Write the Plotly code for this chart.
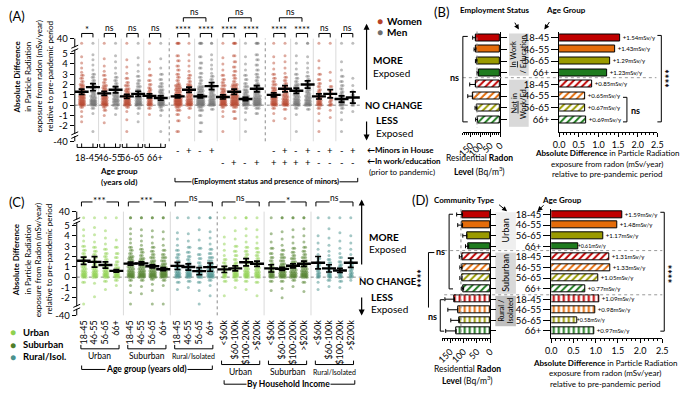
import plotly.graph_objects as go

W, H = 685, 398
FONT = "Lato"

# ================= DATA =================
# ---- Panel A : sex x age / employment / minors ----
A_age_groups = ["18-45", "46-55", "56-65", "66+"]
A_sex = ["W", "M", "W", "M", "W", "M", "W", "M",
         "W", "W", "M", "M", "W", "W", "M", "M",
         "W", "W", "M", "M", "W", "W", "M", "M"]
A_minors = [""] * 8 + ["-", "+", "-", "+", "", "", "", ""] + ["-", "+"] * 4
A_work = [""] * 8 + ["", "", "", "", "-", "+", "-", "+"] + ["+"] * 4 + ["-"] * 4
A_means = [1.3, 1.75, 1.15, 1.5, 0.85, 1.1, 0.9, 0.7,
           0.85, 1.5, 0.85, 1.85, 0.8, 1.3, 0.6, 1.6,
           1.0, 1.6, 1.4, 2.0, 0.85, 1.1, 0.6, 0.75]
A_err = [0.25, 0.35, 0.2, 0.3, 0.2, 0.25, 0.2, 0.2,
         0.15, 0.25, 0.15, 0.35, 0.2, 0.25, 0.15, 0.3,
         0.2, 0.3, 0.25, 0.35, 0.25, 0.4, 0.3, 0.55]
A_sig = ["*", "ns", "ns", "ns", "****", "****", "****", "****", "****", "****", "ns", "ns"]
A_dots = [
    [40, 4.7, 4.1, 3.6, 3.2, 2.9, 2.6, 2.3, 2.0, 1.8, 1.6, 1.4, 1.2, 1.0, 0.85, 0.7, 0.55, 0.4, 0.3, 0.2, 0.1, 0, -0.2, -0.6, -1.1, -1.6],
    [40, 4.9, 4.4, 3.9, 3.4, 3.0, 2.7, 2.4, 2.1, 1.9, 1.7, 1.5, 1.3, 1.1, 0.9, 0.7, 0.5, 0.4, 0.3, 0.2, 0.1, 0, -0.3, -0.8, -40],
    [40, 4.5, 3.8, 3.3, 2.9, 2.5, 2.2, 1.9, 1.7, 1.5, 1.3, 1.1, 0.9, 0.75, 0.6, 0.45, 0.3, 0.2, 0.1, 0, -0.2, -0.5, -1.0, -1.7],
    [40, 4.8, 4.2, 3.6, 3.1, 2.7, 2.4, 2.1, 1.8, 1.6, 1.4, 1.2, 1.0, 0.8, 0.6, 0.45, 0.3, 0.15, 0, -0.3, -0.9],
    [40, 4.4, 3.7, 3.1, 2.6, 2.2, 1.9, 1.6, 1.4, 1.2, 1.0, 0.85, 0.7, 0.55, 0.4, 0.3, 0.2, 0.1, 0, -0.2, -0.6, -1.4, -40],
    [40, 4.6, 3.9, 3.3, 2.8, 2.4, 2.1, 1.8, 1.5, 1.3, 1.1, 0.9, 0.75, 0.6, 0.45, 0.3, 0.2, 0.1, 0, -0.3, -0.8, -1.6],
    [40, 4.2, 3.5, 2.9, 2.4, 2.0, 1.7, 1.5, 1.3, 1.1, 0.9, 0.75, 0.6, 0.45, 0.3, 0.2, 0.1, 0, -0.3, -0.9],
    [40, 4.5, 3.6, 3.0, 2.5, 2.1, 1.8, 1.5, 1.3, 1.1, 0.9, 0.7, 0.55, 0.4, 0.3, 0.2, 0.1, 0, -0.2, -0.5, -1.0, -40],
    [40, 40, 4.8, 4.3, 3.8, 3.4, 3.0, 2.7, 2.4, 2.1, 1.9, 1.7, 1.5, 1.3, 1.1, 0.95, 0.8, 0.65, 0.5, 0.4, 0.3, 0.2, 0.1, 0, -0.2, -0.5, -0.9, -1.5, -40],
    [40, 4.9, 4.3, 3.8, 3.3, 2.9, 2.6, 2.3, 2.0, 1.8, 1.6, 1.4, 1.2, 1.0, 0.8, 0.6, 0.45, 0.3, 0.2, 0.1, 0, -0.3, -1.2],
    [40, 40, 4.7, 4.1, 3.6, 3.1, 2.7, 2.4, 2.1, 1.8, 1.6, 1.4, 1.2, 1.0, 0.85, 0.7, 0.55, 0.4, 0.3, 0.2, 0.1, 0, -0.2, -0.5, -1.0, -1.7, -40],
    [40, 40, 4.9, 4.4, 3.9, 3.5, 3.1, 2.8, 2.5, 2.2, 2.0, 1.8, 1.6, 1.4, 1.2, 1.0, 0.8, 0.6, 0.45, 0.3, 0.2, 0.1, 0, -0.4],
    [40, 4.6, 4.0, 3.4, 2.9, 2.5, 2.2, 1.9, 1.6, 1.4, 1.2, 1.0, 0.85, 0.7, 0.55, 0.4, 0.3, 0.2, 0.1, 0, -0.2, -0.6, -1.1, -40],
    [40, 40, 4.8, 4.2, 3.7, 3.3, 2.9, 2.6, 2.3, 2.0, 1.8, 1.6, 1.4, 1.2, 1.0, 0.85, 0.7, 0.55, 0.4, 0.3, 0.2, 0.1, 0, -0.2, -0.6, -1.3],
    [40, 4.7, 4.0, 3.4, 2.9, 2.5, 2.1, 1.8, 1.5, 1.3, 1.1, 0.9, 0.75, 0.6, 0.45, 0.3, 0.2, 0.1, 0, -0.3, -0.7, -1.4, -40],
    [40, 40, 4.9, 4.4, 3.9, 3.4, 3.0, 2.7, 2.4, 2.1, 1.9, 1.7, 1.5, 1.3, 1.1, 0.9, 0.7, 0.55, 0.4, 0.3, 0.2, 0.1, 0, -0.3, -0.8],
    [40, 4.7, 4.1, 3.5, 3.0, 2.6, 2.3, 2.0, 1.7, 1.5, 1.3, 1.1, 0.9, 0.75, 0.6, 0.45, 0.3, 0.2, 0.1, 0, -0.3, -0.8, -1.5],
    [40, 4.8, 4.2, 3.6, 3.1, 2.7, 2.4, 2.1, 1.8, 1.6, 1.4, 1.2, 1.0, 0.8, 0.6, 0.45, 0.3, 0.2, 0.1, 0, -0.4, -1.3],
    [40, 4.8, 4.1, 3.5, 3.0, 2.6, 2.3, 2.0, 1.8, 1.6, 1.4, 1.2, 1.0, 0.8, 0.6, 0.45, 0.3, 0.2, 0.1, 0, -0.3, -0.9, -40],
    [40, 40, 4.7, 4.1, 3.6, 3.2, 2.8, 2.5, 2.2, 1.9, 1.7, 1.5, 1.3, 1.1, 0.9, 0.7, 0.5, 0.35, 0.2, 0.1, 0, -0.4],
    [40, 4.3, 3.6, 3.0, 2.5, 2.1, 1.8, 1.5, 1.3, 1.1, 0.9, 0.75, 0.6, 0.45, 0.3, 0.2, 0.1, 0, -0.3, -0.8, -1.5, -40],
    [40, 3.2, 2.4, 1.8, 1.4, 1.1, 0.8, 0.5, 0.3, 0.1, 0, -0.5, -1.2],
    [40, 4.2, 3.4, 2.8, 2.3, 1.9, 1.6, 1.3, 1.1, 0.9, 0.7, 0.55, 0.4, 0.3, 0.2, 0.1, 0, -0.3, -0.7, -1.4, -40],
    [40, 2.6, 1.9, 1.4, 1.0, 0.7, 0.4, 0.2, 0, -0.6],
]

# ---- Panel C : community type x age / income ----
C_age_ticks = ["18-45", "46-55", "56-65", "66+"]
C_income_ticks = ["&lt;$60k", "$60-100k", "$100-200k", "&gt;$200k"]
C_groups = ["Urban", "Suburban", "Rural/Isolated"]
C_means = [1.59, 1.48, 1.17, 0.61, 1.31, 1.33, 1.05, 0.77, 1.09, 0.98, 0.58, 0.97,
           0.75, 0.85, 1.45, 1.3, 0.85, 0.8, 1.1, 1.3, 1.4, 0.85, 0.65, 1.4]
C_err = [0.35, 0.5, 0.3, 0.12, 0.15, 0.15, 0.15, 0.15, 0.35, 0.3, 0.35, 0.4,
         0.3, 0.25, 0.35, 0.25, 0.35, 0.15, 0.2, 0.25, 0.6, 0.35, 0.2, 0.45]
C_sig = ["***", "***", "ns", "ns", "*", "ns"]
C_dots = [
    [40, 4.6, 4.0, 3.5, 3.0, 2.6, 2.3, 2.0, 1.8, 1.6, 1.4, 1.2, 1.0, 0.8, 0.6, 0.45, 0.3, 0.2, 0.1, 0, -0.5, -40],
    [40, 4.8, 4.1, 3.4, 2.9, 2.5, 2.2, 1.9, 1.6, 1.4, 1.2, 1.0, 0.8, 0.6, 0.45, 0.3, 0.2, 0.1, 0, -0.6, -1.9],
    [40, 4.5, 3.8, 3.2, 2.7, 2.3, 2.0, 1.7, 1.4, 1.2, 1.0, 0.8, 0.6, 0.45, 0.3, 0.2, 0.1, 0, -0.4, -1.2],
    [40, 3.6, 2.9, 2.3, 1.9, 1.5, 1.2, 0.9, 0.7, 0.5, 0.35, 0.2, 0.1, 0, -0.3, -0.8],
    [40, 40, 4.7, 4.2, 3.7, 3.3, 2.9, 2.6, 2.3, 2.0, 1.8, 1.6, 1.4, 1.2, 1.0, 0.8, 0.6, 0.45, 0.3, 0.2, 0.1, 0, -0.3, -0.8, -1.5, -40],
    [40, 40, 4.6, 4.0, 3.5, 3.1, 2.7, 2.4, 2.1, 1.8, 1.6, 1.4, 1.2, 1.0, 0.8, 0.6, 0.45, 0.3, 0.2, 0.1, 0, -0.3, -0.9, -1.6],
    [40, 40, 4.5, 3.9, 3.3, 2.9, 2.5, 2.2, 1.9, 1.6, 1.4, 1.2, 1.0, 0.8, 0.6, 0.45, 0.3, 0.2, 0.1, 0, -0.2, -0.7, -1.3, -40],
    [40, 40, 4.4, 3.7, 3.1, 2.6, 2.2, 1.9, 1.6, 1.3, 1.1, 0.9, 0.7, 0.55, 0.4, 0.3, 0.2, 0.1, 0, -0.3, -0.8, -40],
    [40, 4.3, 3.7, 3.1, 2.6, 2.2, 1.9, 1.6, 1.3, 1.1, 0.9, 0.7, 0.5, 0.35, 0.2, 0.1, 0, -0.5, -1.2],
    [40, 4.2, 3.5, 2.9, 2.4, 2.0, 1.7, 1.4, 1.2, 1.0, 0.8, 0.6, 0.45, 0.3, 0.2, 0.1, 0, -0.4, -1.0],
    [40, 4.6, 3.6, 2.8, 2.2, 1.8, 1.4, 1.1, 0.8, 0.6, 0.4, 0.25, 0.1, 0, -0.5, -1.3, -40],
    [40, 40, 4.4, 3.8, 3.2, 2.7, 2.3, 1.9, 1.6, 1.3, 1.1, 0.9, 0.7, 0.5, 0.35, 0.2, 0.1, 0, -0.3, -0.8, -1.8],
    [40, 3.9, 3.2, 2.6, 2.1, 1.7, 1.4, 1.1, 0.9, 0.7, 0.5, 0.35, 0.2, 0.1, 0, -0.4, -1.8],
    [40, 4.5, 3.7, 3.0, 2.5, 2.1, 1.7, 1.4, 1.2, 1.0, 0.8, 0.6, 0.45, 0.3, 0.2, 0.1, 0, -0.3, -1.0],
    [40, 40, 4.7, 4.0, 3.4, 2.9, 2.5, 2.2, 1.9, 1.6, 1.4, 1.2, 1.0, 0.8, 0.6, 0.45, 0.3, 0.2, 0.1, 0, -0.4, -1.2],
    [40, 4.6, 3.9, 3.3, 2.8, 2.4, 2.1, 1.8, 1.5, 1.3, 1.1, 0.9, 0.7, 0.5, 0.35, 0.2, 0.1, 0, -0.5, -1.8],
    [40, 4.2, 3.4, 2.8, 2.3, 1.9, 1.6, 1.3, 1.1, 0.9, 0.7, 0.5, 0.35, 0.2, 0.1, 0, -0.4, -1.3],
    [40, 40, 4.4, 3.7, 3.1, 2.6, 2.2, 1.9, 1.6, 1.3, 1.1, 0.9, 0.7, 0.5, 0.35, 0.2, 0.1, 0, -0.4, -1.1, -2.0],
    [40, 40, 4.6, 3.9, 3.3, 2.8, 2.4, 2.1, 1.8, 1.5, 1.3, 1.1, 0.9, 0.7, 0.5, 0.35, 0.2, 0.1, 0, -0.3, -0.9],
    [40, 40, 4.7, 4.0, 3.4, 2.9, 2.5, 2.2, 1.9, 1.6, 1.4, 1.2, 1.0, 0.8, 0.6, 0.45, 0.3, 0.2, 0.1, 0, -0.5, -1.4],
    [40, 4.0, 3.3, 2.7, 2.2, 1.8, 1.5, 1.2, 1.0, 0.8, 0.6, 0.4, 0.25, 0.1, 0, -0.5, -1.2],
    [40, 4.7, 3.8, 3.1, 2.5, 2.1, 1.7, 1.4, 1.1, 0.9, 0.7, 0.5, 0.35, 0.2, 0.1, 0, -0.3, -0.9],
    [40, 4.3, 3.5, 2.8, 2.3, 1.9, 1.5, 1.2, 1.0, 0.8, 0.6, 0.4, 0.25, 0.1, 0, -0.4, -1.0],
    [40, 4.0, 3.3, 2.7, 2.2, 1.8, 1.5, 1.2, 1.0, 0.8, 0.6, 0.4, 0.25, 0.1, 0, -0.3],
]

# ---- Panel B : employment status x age ----
B_rows = ["18-45", "46-55", "56-65", "66+"] * 2
B_vals = [1.54, 1.43, 1.29, 1.23, 0.85, 0.65, 0.67, 0.69]
B_radon = [126, 123, 118, 110, 126, 140, 118, 115]
B_radon_err = [14, 10, 8, 8, 29, 25, 10, 10]
B_radon_ref = 118

# ---- Panel D : community type x age ----
D_rows = ["18-45", "46-55", "56-65", "66+"] * 3
D_vals = [1.59, 1.48, 1.17, 0.61, 1.31, 1.33, 1.05, 0.77, 1.09, 0.98, 0.58, 0.97]
D_radon = [104, 104, 88, 81, 106, 106, 106, 100, 134, 122, 116, 128]
D_radon_err = [22, 18, 15, 12, 10, 8, 8, 8, 36, 37, 32, 39]
D_radon_ref = 110

# ================= STYLE =================
RED_W = "#B5432A"
GRAY_M = "#6E6E6E"
C_COLS = ["#8FD14F", "#4F7F2A", "#4A928D"]
BAR_COLS = ["#C00000", "#E46C0A", "#9A9A00", "#1E7B1E"]


def X(p):
    return p / W


def Y(p):
    return 1 - p / H


fig = go.Figure()
shapes, annos = [], []


def text(x, y, s, size=9.5, color="black", xa="center", ya="middle", angle=0, xref="paper", bg=None):
    a = dict(x=(X(x) if xref == "paper" else x), y=Y(y), xref=xref, yref="paper", text=s,
             showarrow=False, font=dict(size=size, color=color, family=FONT),
             xanchor=xa, yanchor=ya, textangle=angle, borderpad=0)
    if bg:
        a["bgcolor"] = bg
    annos.append(a)


def path(pts, xref="paper", color="black", width=1, dash="solid", layer="above"):
    d = "M" + " L".join(f"{(X(a) if xref == 'paper' else a):.5f},{Y(b):.5f}" for a, b in pts)
    shapes.append(dict(type="path", xref=xref, yref="paper", path=d,
                       line=dict(color=color, width=width, dash=dash), layer=layer))


def dline(x0, y0, x1, y1, xref, yref, color="black", width=1, dash="solid", layer="above"):
    shapes.append(dict(type="line", xref=xref, yref=yref, x0=x0, y0=y0, x1=x1, y1=y1,
                       line=dict(color=color, width=width, dash=dash), layer=layer))


def rect(x0, y0, x1, y1, color):
    shapes.append(dict(type="rect", xref="paper", yref="paper", x0=X(x0), x1=X(x1), y0=Y(y1), y1=Y(y0),
                       fillcolor=color, line=dict(width=0), layer="below"))


def arrow(x, y, ax, ay, width=1.2):
    annos.append(dict(x=X(x), y=Y(y), xref="paper", yref="paper", ax=ax, ay=ay, showarrow=True,
                      arrowhead=2, arrowsize=1, arrowwidth=width, arrowcolor="black", text=" "))


def swarm(xc, vals, dens, step, top, bot):
    xs, ys = [], []
    for i, v in enumerate(vals):
        if v > 5.2:
            d, f = top, 0.3
        elif v < -2.2:
            d, f = bot, 0.3
        else:
            d = v
            if v < -0.5:
                f = 0.3
            elif v < 0:
                f = 0.6
            elif v <= 1.0:
                f = 1.0
            elif v <= 2.0:
                f = 0.75
            elif v <= 3.0:
                f = 0.5
            else:
                f = 0.3
        n = max(1, round(dens * f))
        shift = 0.5 * step if (i % 2 and n > 1) else 0
        for j in range(n):
            xs.append(xc + (j - (n - 1) / 2) * step + shift)
            ys.append(d)
    return xs, ys


def broken_axis(xpx, yref, top, brk1, brk2, bot):
    xp = X(xpx)
    dline(xp, top, xp, brk1 + 0.12, "paper", yref)
    dline(xp, brk1 - 0.12, xp, brk2 + 0.12, "paper", yref)
    dline(xp, brk2 - 0.12, xp, bot, "paper", yref)
    for b in (brk1, brk2):
        dline(X(xpx - 3.5), b + 0.02, X(xpx + 3.5), b + 0.32, "paper", yref)
        dline(X(xpx - 3.5), b - 0.32, X(xpx + 3.5), b - 0.02, "paper", yref)


# ================= PANEL A =================
A_x = [k for k in range(8)] + [8.5 + k for k in range(8)] + [17 + k for k in range(8)]
A_dens = [4, 4, 4, 4, 4, 4, 3, 4, 5, 4, 5, 4, 4, 5, 4, 5, 4, 4, 4, 4, 3, 2, 3, 1.5]
A_top, A_bot = 6.0, -2.55
for sex, col in (("W", RED_W), ("M", GRAY_M)):
    xs, ys = [], []
    for i in range(24):
        if A_sex[i] == sex:
            a, b = swarm(A_x[i], A_dots[i], A_dens[i], 0.13, A_top, A_bot)
            xs += a
            ys += b
    fig.add_trace(go.Scatter(x=xs, y=ys, mode="markers", xaxis="x", yaxis="y", hoverinfo="skip",
                             marker=dict(size=3, color=col, opacity=0.45)))
fig.add_trace(go.Scatter(x=A_x, y=A_means, mode="markers", xaxis="x", yaxis="y",
                         marker=dict(symbol="line-ew", size=10, line=dict(width=2.4, color="black")),
                         error_y=dict(type="data", array=A_err, color="black", thickness=1.7, width=3)))

A_xr = [(70 - 77) / 11.5, (362 - 77) / 11.5]
for s in [1.5, 3.5, 5.5, 10, 12, 14, 18.5, 20.5, 22.5]:
    dline(s, -3.5, s, 6.45, "x", "y", color="#DADADA", width=1, layer="below")
for s in [7.75, 16.25]:
    dline(s, -3.5, s, 6.45, "x", "y", color="#8A8A8A", width=1, dash="dot", layer="below")
dline(A_xr[0], 0, A_xr[1], 0, "x", "y", color="#8A8A8A", width=1, dash="dot", layer="below")
broken_axis(70, "y", 6.45, 5.5, -2.9, -3.5)

A_pairs = [(0, 1), (2, 3), (4, 5), (6, 7), (8.5, 9.5), (10.5, 11.5), (12.5, 13.5), (14.5, 15.5),
           (17, 18), (19, 20), (21, 22), (23, 24)]
for (a, b), s in zip(A_pairs, A_sig):
    path([(a, 34), (a, 30), (b, 30), (b, 34)], xref="x")
    text((a + b) / 2, 26 if "*" in s else 24.5, s, size=9.5 if "*" in s else 8.5, xref="x")
for a, b in [(9, 11), (13, 15), (17.5, 19.5)]:
    path([(a, 18), (a, 14), (b, 14), (b, 18)], xref="x")
    text((a + b) / 2, 8, "ns", size=8.5, xref="x")
for k, lab in enumerate(A_age_groups):
    a, b = 2 * k, 2 * k + 1
    path([(a - 0.4, 142.5), (a - 0.4, 146), (b + 0.4, 146), (b + 0.4, 142.5)], xref="x")
    path([(a, 146), (a, 142)], xref="x")
    path([(b, 146), (b, 142)], xref="x")
    text((a + b) / 2, 156, lab, size=9, xref="x")
for i in range(24):
    if A_minors[i]:
        text(A_x[i], 149.5, A_minors[i], size=9.5, xref="x")
    if A_work[i]:
        text(A_x[i], 161, A_work[i], size=9.5, xref="x")

text(115, 170, "<b>Age group</b>", size=8)
text(115, 181, "<b>(years old)</b>", size=8)
path([(172, 177), (172, 181), (358, 181), (358, 177)])
text(264, 181, "<b>(Employment status and presence of minors)</b>", size=7.5, bg="white")
text(366, 149, "<b>\u2190Minors in House</b>", size=8, xa="left")
text(366, 160, "<b>\u2190In work/education</b>", size=8, xa="left")
text(368, 171, "(prior to pandemic)", size=8, xa="left")

text(2, 12, "(A)", size=13, xa="left")
for xx, s in [(11, "<b>Absolute Difference</b>"), (22.5, "in Particle Radiation"),
              (33.5, "exposure from radon (mSv/year)"), (44.5, "relative to pre-pandemic period")]:
    text(xx, 74, s, size=8, angle=-90)

text(381, 17, "\u25cf", size=10, color=RED_W)
text(387, 17, "<b>Women</b>", size=10, xa="left")
text(381, 29, "\u25cf", size=10, color=GRAY_M)
text(387, 29, "<b>Men</b>", size=10, xa="left")

arrow(367, 20, 0, 75)
arrow(367, 139, 0, -28)
text(373, 57, "<b>MORE</b>", size=10, xa="left")
text(373, 70, "Exposed", size=10, xa="left")
text(364, 103, "<b>NO CHANGE</b>", size=9.5, xa="left")
text(376, 118, "<b>LESS</b>", size=10, xa="left")
text(376, 131, "Exposed", size=10, xa="left")

# ================= PANEL C =================
C_x = [4.3 * g + k for g in range(6) for k in range(4)]
C_dens = [3, 3, 3, 3, 4, 4, 4, 4, 3, 3, 3, 3.5, 2.5, 3, 3, 3, 3, 3.5, 3.5, 3.5, 2, 2.5, 2.5, 2]
C_top, C_bot = 5.75, -2.6
for g3, col in enumerate(C_COLS):
    xs, ys = [], []
    for i in range(24):
        if (i // 4) % 3 == g3:
            a, b = swarm(C_x[i], C_dots[i], C_dens[i], 0.15, C_top, C_bot)
            xs += a
            ys += b
    fig.add_trace(go.Scatter(x=xs, y=ys, mode="markers", xaxis="x2", yaxis="y2", hoverinfo="skip",
                             marker=dict(size=3, color=col, opacity=0.5)))
fig.add_trace(go.Scatter(x=C_x, y=C_means, mode="markers", xaxis="x2", yaxis="y2",
                         marker=dict(symbol="line-ew", size=10, line=dict(width=2.4, color="black")),
                         error_y=dict(type="data", array=C_err, color="black", thickness=1.7, width=3)))
C_xr = [(72 - 79) / 11.1, (362 - 79) / 11.1]
for g in range(5):
    s = 4.3 * g + 3.65
    if g == 2:
        dline(s, -3.7, s, 6.35, "x2", "y2", color="#8A8A8A", dash="dot", layer="below")
    else:
        dline(s, -3.7, s, 6.35, "x2", "y2", color="#DADADA", layer="below")
dline(C_xr[0], 0, C_xr[1], 0, "x2", "y2", color="#8A8A8A", dash="dot", layer="below")
broken_axis(72, "y2", 6.35, 5.45, -2.95, -3.7)

for g, s in enumerate(C_sig):
    a, b = 4.3 * g - 0.2, 4.3 * g + 3.2
    path([(a, 206), (a, 201.5), (b, 201.5), (b, 206)], xref="x2")
    text((a + b) / 2, 200 if "*" in s else 197, s, size=10 if "*" in s else 8.5, xref="x2", bg="white")
for g in range(6):
    a, b = 4.3 * g - 0.25, 4.3 * g + 3.25
    yb = 351 if g < 3 else 367
    path([(a, yb - 4), (a, yb), (b, yb), (b, yb - 4)], xref="x2")
    lab = C_groups[g % 3]
    text((a + b) / 2, yb + 7.5, lab, size=7 if g % 3 == 2 else 8.5, xref="x2")
path([(77, 368), (77, 372), (210, 372), (210, 368)])
text(143, 372, "<b>Age group (years old)</b>", size=8.5, bg="white")
path([(222, 383), (222, 387), (355, 387), (355, 383)])
text(288, 387, "<b>By Household Income</b>", size=8.5, bg="white")

text(2, 202, "(C)", size=13, xa="left")
for xx, s in [(11, "<b>Absolute Difference</b>"), (22.5, "in Particle Radiation"),
              (33.5, "exposure from Radon (mSv/year)"), (44.5, "relative to pre-pandemic period")]:
    text(xx, 260, s, size=8, angle=-90)
for yy, lab, col in [(334, "Urban", C_COLS[0]), (347, "Suburban", C_COLS[1]), (359, "Rural/Isol.", C_COLS[2])]:
    text(7, yy, "\u25cf", size=10, color=col)
    text(16, yy, f"<b>{lab}</b>", size=9.5, xa="left")

arrow(362, 199, 0, 74)
arrow(362, 317, 0, -27)
text(368, 237, "<b>MORE</b>", size=10, xa="left")
text(368, 249, "Exposed", size=10, xa="left")
text(358, 282, "<b>NO CHANGE</b>", size=9.5, xa="left")
text(370, 298, "<b>LESS</b>", size=10, xa="left")
text(370, 310, "Exposed", size=10, xa="left")

# ================= PANEL B =================
B_cols = BAR_COLS * 2
B_shapes = [""] * 4 + ["/"] * 4
pat_B = dict(shape=B_shapes, fgcolor="white", bgcolor=B_cols, size=5, solidity=0.4, fillmode="replace")
fig.add_trace(go.Bar(x=B_radon, y=list(range(8)), orientation="h", xaxis="x3", yaxis="y3", width=0.6,
                     marker=dict(color=B_cols, line=dict(color="black", width=1), pattern=pat_B),
                     error_x=dict(type="data", symmetric=False, array=B_radon_err, arrayminus=[0] * 8,
                                  color="black", thickness=1, width=2)))
fig.add_trace(go.Bar(x=B_vals, y=list(range(8)), orientation="h", xaxis="x4", yaxis="y4", width=0.6,
                     marker=dict(color=B_cols, line=dict(color="black", width=1), pattern=pat_B),
                     text=[f"+{v:.2f}mSv/y" for v in B_vals], textposition="outside",
                     textfont=dict(size=7, family=FONT, color="black"), cliponaxis=False))
dline(B_radon_ref, Y(28), B_radon_ref, Y(126), "x3", "paper", color="#8A8A8A", dash="dot")
dline(X(465), Y(75), X(662), Y(75), "paper", "paper", color="#9A9A9A", dash="dot")
rect(512, 30, 532, 73, "#D9D9D9")
rect(512, 77, 532, 125, "#D9D9D9")
text(522, 51.5, "<u>In</u> Work<br>/ Education", size=7.5, angle=-90)
text(522, 101, "<u>Not</u> in<br>Work/Ed.", size=7.5, angle=-90)
path([(470, 33), (465, 33), (465, 120), (470, 120)])
text(456, 75, "<b>ns</b>", size=9)
path([(663, 32), (667, 32), (667, 120), (663, 120)])
text(676, 76, "<b>****</b>", size=11, angle=-90)
path([(628, 95), (632, 95), (632, 120), (628, 120)])
text(641, 108, "<b>ns</b>", size=9)
text(435, 8, "(B)", size=13, xa="left")
text(497, 6, "<b>Employment Status</b>", size=8)
text(570, 6, "<b>Age Group</b>", size=8)
arrow(522, 26, -7, -12, 1)
arrow(548, 26, 8, -12, 1)
text(482, 157, "Residential <b>Radon</b>", size=8.5)
text(482, 170, "<b>Level</b> (Bq/m<sup>3</sup>)", size=8.5)
text(612, 152, "<b>Absolute Difference</b> in Particle Radiation", size=8)
text(612, 163, "exposure from radon (mSv/year)", size=8)
text(612, 173, "relative to pre-pandemic period", size=8)

# ================= PANEL D =================
D_cols = BAR_COLS * 3
D_shapes = [""] * 4 + ["/"] * 4 + ["|"] * 4
pat_D = dict(shape=D_shapes, fgcolor="white", bgcolor=D_cols, size=5, solidity=0.4, fillmode="replace")
fig.add_trace(go.Bar(x=D_radon, y=list(range(12)), orientation="h", xaxis="x5", yaxis="y5", width=0.65,
                     marker=dict(color=D_cols, line=dict(color="black", width=1), pattern=pat_D),
                     error_x=dict(type="data", symmetric=False, array=D_radon_err, arrayminus=[0] * 12,
                                  color="black", thickness=1, width=2)))
fig.add_trace(go.Bar(x=D_vals, y=list(range(12)), orientation="h", xaxis="x6", yaxis="y6", width=0.65,
                     marker=dict(color=D_cols, line=dict(color="black", width=1), pattern=pat_D),
                     text=[f"+{v:.2f}mSv/y" for v in D_vals], textposition="outside",
                     textfont=dict(size=7, family=FONT, color="black"), cliponaxis=False))
dline(D_radon_ref, Y(209), D_radon_ref, Y(337), "x5", "paper", color="#8A8A8A", dash="dot")
for yy in (251, 296):
    dline(X(446), Y(yy), X(668), Y(yy), "paper", "paper", color="#9A9A9A", dash="dot")
rect(498, 212, 519, 250, "#EFEFEF")
rect(498, 253, 519, 295, "#D9D9D9")
rect(498, 297, 519, 328, "#BFBFBF")
text(508.5, 231, "Urban", size=9, angle=-90)
text(508.5, 274, "Suburban", size=9, angle=-90)
text(508.5, 312.5, "Rural /<br>Isolated", size=7.5, angle=-90)
path([(455, 214), (451, 214), (451, 290), (455, 290)])
text(442, 252, "<b>ns</b>", size=9)
path([(436, 253), (430, 253), (430, 309)])
text(423, 279, "<b>****</b>", size=11, angle=-90)
path([(446, 301), (442, 301), (442, 333), (446, 333)])
text(434, 318, "<b>ns</b>", size=9)
path([(666, 212), (670, 212), (670, 333), (666, 333)])
text(678, 275, "<b>****</b>", size=11, angle=-90)
text(412, 199, "(D)", size=13, xa="left")
text(467, 199, "<b>Community Type</b>", size=8)
text(566, 199, "<b>Age Group</b>", size=8)
arrow(510, 211, -11, -9, 1)
arrow(541, 211, 9, -9, 1)
text(470, 372, "Residential <b>Radon</b>", size=8.5)
text(470, 383, "<b>Level</b> (Bq/m<sup>3</sup>)", size=8.5)
text(610, 365, "<b>Absolute Difference</b> in Particle Radiation", size=8)
text(610, 376, "exposure from radon (mSv/year)", size=8)
text(610, 387, "relative to pre-pandemic period", size=8)

# ================= AXES =================
def yscatter_axis(dom_top, dom_bot, rng, top_v, bot_v, anchor):
    return dict(domain=[Y(dom_bot), Y(dom_top)], range=rng, anchor=anchor,
                tickvals=[top_v, 5, 4, 3, 2, 1, 0, -1, -2, bot_v],
                ticktext=["40", "5", "4", "3", "2", "1", "0", "-1", "-2", "-40"],
                ticks="outside", ticklen=4, tickcolor="black", showgrid=False, zeroline=False,
                showline=False, tickfont=dict(size=9.5, family=FONT, color="black"))


common_bar_x = dict(showgrid=False, zeroline=False, showline=True, linecolor="black", linewidth=1,
                    ticks="outside", ticklen=4, tickcolor="black",
                    tickfont=dict(size=9, family=FONT, color="black"))
common_bar_y = dict(showgrid=False, zeroline=False, showline=True, linecolor="black", linewidth=1,
                    ticks="outside", ticklen=7, tickcolor="black",
                    tickfont=dict(size=9.5, family=FONT, color="black"))

fig.update_layout(
    width=W, height=H, margin=dict(l=0, r=0, t=0, b=0), showlegend=False,
    paper_bgcolor="white", plot_bgcolor="rgba(0,0,0,0)", bargap=0,
    font=dict(family=FONT, color="black"),
    xaxis=dict(domain=[X(70), X(362)], range=A_xr, showgrid=False, zeroline=False, showticklabels=False,
               ticks="", showline=False, anchor="y"),
    yaxis=yscatter_axis(33.7, 141.85, [-3.7, 6.6], 6.45, -3.5, "x"),
    xaxis2=dict(domain=[X(72), X(362)], range=C_xr, showgrid=False, zeroline=False, showline=False,
                tickvals=C_x, ticktext=(C_age_ticks * 3 + C_income_ticks * 3), tickangle=-90,
                ticks="", tickfont=dict(size=9, family=FONT, color="black"), anchor="y2"),
    yaxis2=yscatter_axis(208.7, 319, [-3.9, 6.6], 6.35, -3.7, "x2"),
    xaxis3=dict(domain=[X(465), X(503)], range=[190, 0], tickvals=[150, 100, 50, 0], tickangle=-45,
                minor=dict(ticks="outside", dtick=10, ticklen=2, tickcolor="black"), anchor="y3",
                **common_bar_x),
    yaxis3=dict(domain=[Y(130), Y(28)], range=[8.04, -0.53], side="right", showticklabels=False,
                tickvals=list(range(8)), anchor="x3", **{**common_bar_y, "ticklen": 6}),
    xaxis4=dict(domain=[X(563), X(663)], range=[0, 2.5], tickvals=[0, 0.5, 1, 1.5, 2, 2.5],
                ticktext=["0.0", "0.5", "1.0", "1.5", "2.0", "2.5"],
                minor=dict(ticks="outside", dtick=0.1, ticklen=2, tickcolor="black"), anchor="y4",
                **common_bar_x),
    yaxis4=dict(domain=[Y(130), Y(28)], range=[8.04, -0.53], tickvals=list(range(8)), ticktext=B_rows,
                anchor="x4", **common_bar_y),
    xaxis5=dict(domain=[X(444), X(493)], range=[180, 0], tickvals=[150, 100, 50, 0], tickangle=-45,
                minor=dict(ticks="outside", dtick=10, ticklen=2, tickcolor="black"), anchor="y5",
                **common_bar_x),
    yaxis5=dict(domain=[Y(340), Y(209)], range=[11.67, -0.49], side="right", showticklabels=False,
                tickvals=list(range(12)), anchor="x5", **{**common_bar_y, "ticklen": 5}),
    xaxis6=dict(domain=[X(555), X(668)], range=[0, 2.5], tickvals=[0, 0.5, 1, 1.5, 2, 2.5],
                ticktext=["0.0", "0.5", "1.0", "1.5", "2.0", "2.5"],
                minor=dict(ticks="outside", dtick=0.1, ticklen=2, tickcolor="black"), anchor="y6",
                **common_bar_x),
    yaxis6=dict(domain=[Y(340), Y(209)], range=[11.67, -0.49], tickvals=list(range(12)), ticktext=D_rows,
                anchor="x6", **common_bar_y),
    shapes=shapes, annotations=annos,
)

fig.write_html("out.html", config={"displayModeBar": False},
               post_script="document.body.style.margin='0';document.body.style.overflow='hidden';")
